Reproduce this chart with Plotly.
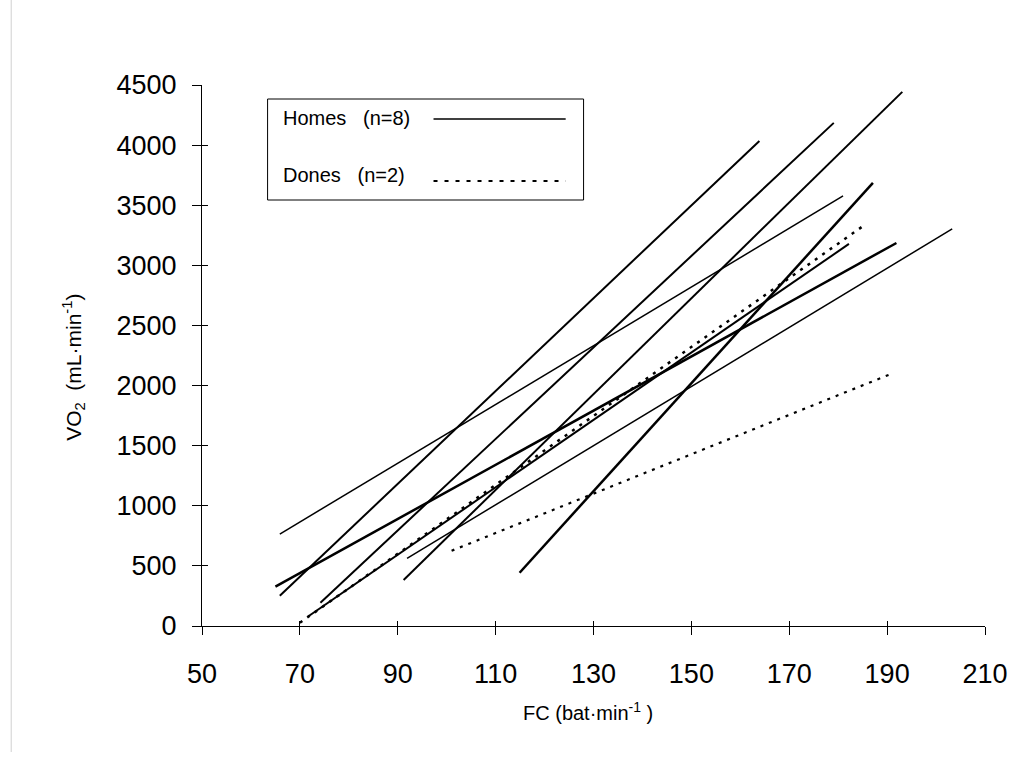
import plotly.graph_objects as go

# ---- data ----
# Homes (n=8): FC (bat/min) and VO2 (mL/min) end points of each regression line
h1_fc = [65.9, 181.0];  h1_vo2 = [765, 3577]
h2_fc = [65.0, 191.9];  h2_vo2 = [327, 3186]
h3_fc = [65.9, 163.9];  h3_vo2 = [252, 4035]
h4_fc = [74.2, 179.1];  h4_vo2 = [194, 4185]
h5_fc = [91.2, 193.1];  h5_vo2 = [383, 4443]
h6_fc = [91.9, 203.3];  h6_vo2 = [563, 3303]
h7_fc = [114.9, 187.1]; h7_vo2 = [443, 3686]
h8_fc = [71.6, 182.2];  h8_vo2 = [77, 3178]
# Dones (n=2)
d1_fc = [70.0, 185.2];  d1_vo2 = [27, 3330]
d2_fc = [101.0, 191.0]; d2_vo2 = [626, 2100]

x_ticks = [50, 70, 90, 110, 130, 150, 170, 190, 210]
y_ticks = [0, 500, 1000, 1500, 2000, 2500, 3000, 3500, 4000, 4500]

legend_labels = ["Homes\u00a0\u00a0\u00a0(n=8)", "Dones\u00a0\u00a0\u00a0(n=2)"]
x_title = "FC (bat·min<sup>-1</sup> )"
y_title = "VO<sub>2</sub>\u00a0\u00a0(mL·min<sup>-1</sup>)"

homes = [(h1_fc, h1_vo2, 1.5), (h2_fc, h2_vo2, 2.5), (h3_fc, h3_vo2, 2.0),
         (h4_fc, h4_vo2, 2.0), (h5_fc, h5_vo2, 2.0), (h6_fc, h6_vo2, 1.5),
         (h7_fc, h7_vo2, 2.5), (h8_fc, h8_vo2, 2.0)]
dones = [(d1_fc, d1_vo2, 2.5), (d2_fc, d2_vo2, 2.2)]

FONT = "Arial, Liberation Sans, sans-serif"

fig = go.Figure()
for fc, vo2, w in homes:
    fig.add_trace(go.Scatter(x=fc, y=vo2, mode="lines", showlegend=False,
                             line=dict(color="black", width=w)))
for fc, vo2, w in dones:
    fig.add_trace(go.Scatter(x=fc, y=vo2, mode="lines", showlegend=False,
                             line=dict(color="black", width=w, dash="3px,6px")))
# dummy trace for the overlay axes (inner half of crossing ticks)
fig.add_trace(go.Scatter(x=[], y=[], xaxis="x2", yaxis="y2", showlegend=False))

axis_common = dict(showgrid=False, zeroline=False, color="black",
                   tickfont=dict(family=FONT, size=27, color="black"))
fig.update_layout(
    width=1020, height=763,
    margin=dict(l=202, r=30, t=85, b=137),
    paper_bgcolor="white", plot_bgcolor="white",
    font=dict(family=FONT, color="black"),
    xaxis=dict(range=[50, 210], tickvals=x_ticks, ticks="outside", ticklen=8,
               tickwidth=1, tickcolor="black", showline=True, linecolor="black",
               linewidth=1, ticklabelstandoff=16, **axis_common),
    yaxis=dict(range=[0, 4500], tickvals=y_ticks, ticks="outside", ticklen=9,
               tickwidth=1, tickcolor="black", showline=True, linecolor="black",
               linewidth=1, ticklabelstandoff=10, **axis_common),
    xaxis2=dict(overlaying="x", matches="x", anchor="y", side="bottom",
                tickvals=x_ticks, ticks="inside", ticklen=5, tickcolor="black",
                showticklabels=False, showline=False, showgrid=False, zeroline=False),
    yaxis2=dict(overlaying="y", matches="y", anchor="x", side="left",
                tickvals=y_ticks, ticks="inside", ticklen=6, tickcolor="black",
                showticklabels=False, showline=False, showgrid=False, zeroline=False),
)

def px_x(p):
    return (p - 202) / 788.0

def px_y(p):
    return (626 - p) / 541.0

# axis titles
fig.add_annotation(xref="paper", yref="paper", x=px_x(590), y=px_y(711),
                   xanchor="center", yanchor="middle", showarrow=False,
                   text=x_title, font=dict(family=FONT, size=20))
fig.add_annotation(xref="paper", yref="paper", x=px_x(73), y=px_y(367),
                   xanchor="center", yanchor="middle", showarrow=False, textangle=-90,
                   text=y_title, font=dict(family=FONT, size=21))

# hand-drawn legend box (text left, line sample right), as in the reference
fig.add_shape(type="rect", xref="paper", yref="paper",
              x0=px_x(268), x1=px_x(586), y0=px_y(200), y1=px_y(99),
              line=dict(color="black", width=1), fillcolor="white", layer="above")
fig.add_shape(type="line", xref="paper", yref="paper",
              x0=px_x(435), x1=px_x(568), y0=px_y(119), y1=px_y(119),
              line=dict(color="black", width=1.5), layer="above")
fig.add_shape(type="line", xref="paper", yref="paper",
              x0=px_x(435), x1=px_x(568), y0=px_y(181), y1=px_y(181),
              line=dict(color="black", width=2, dash="4px,7px"), layer="above")
fig.add_annotation(xref="paper", yref="paper", x=px_x(282), y=px_y(118),
                   xanchor="left", yanchor="middle", showarrow=False,
                   text=legend_labels[0], font=dict(family=FONT, size=20))
fig.add_annotation(xref="paper", yref="paper", x=px_x(282), y=px_y(175),
                   xanchor="left", yanchor="middle", showarrow=False,
                   text=legend_labels[1], font=dict(family=FONT, size=20))

# faint frame line at the left edge of the reference picture
fig.add_shape(type="line", xref="paper", yref="paper",
              x0=px_x(10), x1=px_x(10), y0=px_y(0), y1=px_y(752),
              line=dict(color="#d0d0d0", width=1))

fig.write_html("out.html", config={"displayModeBar": False},
               post_script="document.body.style.margin='0';")
